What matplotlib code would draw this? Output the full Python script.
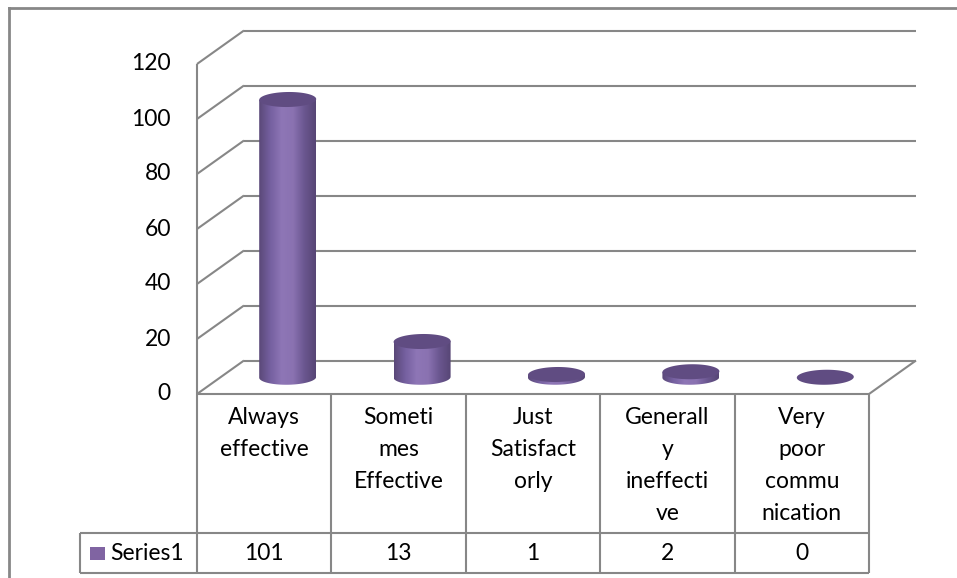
import numpy as np
import matplotlib
matplotlib.use("Agg")
import matplotlib.pyplot as plt
from matplotlib.patches import Polygon, Rectangle
from matplotlib.colors import LinearSegmentedColormap
from matplotlib.lines import Line2D

# ---------------- data ----------------
categories = ["Always\neffective", "Someti\nmes\nEffective", "Just\nSatisfact\norly",
              "Generall\ny\nineffecti\nve", "Very\npoor\ncommu\nnication"]
values = [101, 13, 1, 2, 0]
series_name = "Series1"
yticks = [0, 20, 40, 60, 80, 100, 120]

# ---------------- style ----------------
FONT = "Lato"
FS = 16.5
GRID = "#878787"
W, H = 957, 578
fig = plt.figure(figsize=(W / 100, H / 100), dpi=100)
fig.patch.set_facecolor("white")

# plot area (front plane) in pixels
X0, X1 = 197, 869
Y0, Y1 = 394, 64
ax = fig.add_axes([X0 / W, 1 - Y0 / H, (X1 - X0) / W, (Y0 - Y1) / H])
n = len(values)
PX = (X1 - X0) / n          # px per category unit
PY = (Y0 - Y1) / 120.0      # px per value unit
DX = 47 / PX                # depth offset (x units)
DY = 33.5 / PY              # depth offset (y units)

def px2x(p):
    return (p - X0) / PX

def px2y(p):
    return (Y0 - p) / PY

lw = 1.5
kw = dict(color=GRID, lw=lw, clip_on=False, solid_capstyle="butt")
# walls & gridlines
for t in yticks:
    ax.plot([DX, n + DX], [t + DY, t + DY], **kw)
    ax.plot([0, DX], [t, t + DY], **kw)
    ax.text(px2x(171), t, str(t), ha="right", va="center", fontsize=FS,
            family=FONT, color="#000000")
ax.plot([n, n + DX], [0, DY], **kw)
ax.plot([0, 0], [0, yticks[-1]], **kw)

# ---------------- cylinders ----------------
cmap_body = LinearSegmentedColormap.from_list(
    "body", ["#5a4878", "#7560a0", "#8e76b6", "#8a72b1", "#6a568f", "#574675"])
top_col = "#604c82"
w = 28.5 / PX
h = 7.5 / PY
k = 1.0 / w  # shear (y units per x unit) -> right side slightly higher
th = np.linspace(0, 2 * np.pi, 120)
base = DY / 2
grad = np.linspace(0, 1, 256).reshape(1, -1)
for i, v in enumerate(values):
    cx = i + 0.5 + DX / 2
    top = base + v
    if v > 0:
        a = np.linspace(np.pi, 2 * np.pi, 60)
        bx = cx + w * np.cos(a)
        by = base + h * np.sin(a) + k * (bx - cx) * 0.15
        pts = [(cx - w, top - k * w * 0.15)] + list(zip(bx, by)) + [(cx + w, top + k * w * 0.15)]
        poly = Polygon(pts, closed=True, facecolor="none", edgecolor="none", clip_on=False)
        ax.add_patch(poly)
        im = ax.imshow(grad, cmap=cmap_body, aspect="auto",
                       extent=(cx - w, cx + w, base - h - 2, top + 2), zorder=2)
        im.set_clip_path(poly)
    ex = cx + w * np.cos(th)
    ey = top + h * np.sin(th) + k * (ex - cx) * 0.15
    ax.add_patch(Polygon(list(zip(ex, ey)), closed=True, facecolor=top_col,
                         edgecolor="none", zorder=3, clip_on=False))

# ---------------- data table ----------------
yrow = px2y(533)
ybot = px2y(573)
xs = px2x(80)
for j in range(n + 1):
    ax.plot([j, j], [0, ybot], **kw)
ax.plot([0, n], [0, 0], **kw)
ax.plot([xs, n], [yrow, yrow], **kw)
ax.plot([xs, n], [ybot, ybot], **kw)
ax.plot([xs, xs], [yrow, ybot], **kw)
for j, (c, v) in enumerate(zip(categories, values)):
    ax.text(j + 0.5, px2y(407), c, ha="center", va="top", fontsize=FS,
            family=FONT, linespacing=1.64)
    ax.text(j + 0.5, px2y(553), str(v), ha="center", va="center", fontsize=FS,
            family=FONT)
ax.add_patch(Rectangle((px2x(90), px2y(560)), 15 / PX, 13 / PY,
                       facecolor="#8064a2", edgecolor="none", clip_on=False))
ax.text(px2x(110), px2y(553), series_name, ha="left", va="center",
        fontsize=FS, family=FONT)

ax.set_xlim(0, n)
ax.set_ylim(0, 120)
ax.axis("off")

# outer chart border (left & top visible)
bx0 = 9 / W
by0 = 1 - 8 / H
fig.add_artist(Line2D([bx0, bx0], [0, by0], color="#878787", lw=2, transform=fig.transFigure))
fig.add_artist(Line2D([bx0, 1], [by0, by0], color="#878787", lw=2, transform=fig.transFigure))

fig.savefig("out.png", dpi=100)
